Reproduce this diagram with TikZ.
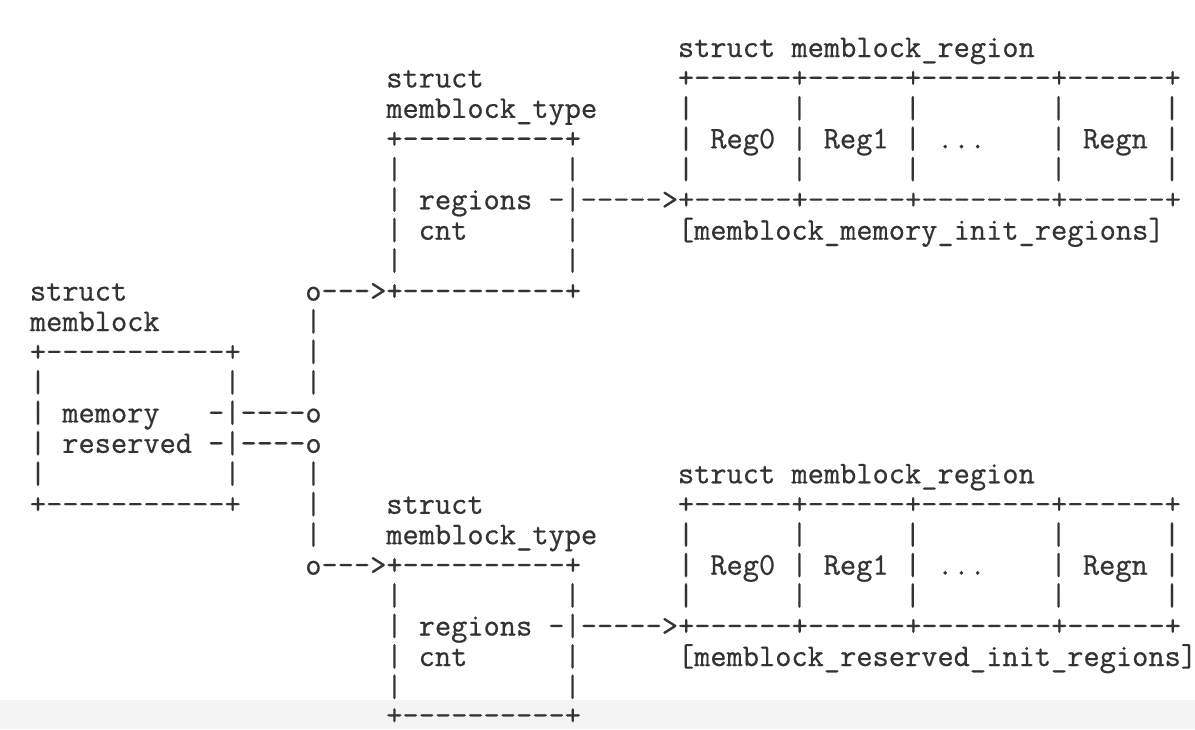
\documentclass[tikz,border=0pt]{standalone}
\usepackage{fontspec}
\newfontfamily\ascfont{Latin Modern Mono}[FakeBold=0.6]
\definecolor{ink}{HTML}{333333}
\definecolor{band}{HTML}{F4F4F4}
\newcommand{\cw}{16.2}
\newcommand{\rowh}{30.45}
% \seg{name}{col}{row}{text}
\newcommand{\seg}[4]{\node[asc] (#1) at ({29.9+\cw*#2},{50+\rowh*#3+7}) {#4};}
\newcommand{\regbars}[2]{%
  \seg{#1a}{40}{#2}{|}\seg{#1b}{47}{#2}{|}\seg{#1c}{54}{#2}{|}\seg{#1d}{63}{#2}{|}\seg{#1e}{70}{#2}{|}}
\tikzset{asc/.style={anchor=base west,inner sep=0pt,outer sep=0pt,text=ink,text depth=0pt,
  font=\fontsize{31.5}{32}\selectfont\ascfont}}
\begin{document}
\begin{tikzpicture}[x=1pt,y=-1pt]
\useasboundingbox (0,0) rectangle (1195,729);
\fill[white] (0,0) rectangle (1195,729);
\fill[band] (0,700) rectangle (1195,729);
% upper memblock_region array
\seg{ura}{40}{0}{struct memblock\_region}
\seg{ut1}{22}{1}{struct}
\seg{urtop}{40}{1}{+------+------+--------+------+}
\seg{ut2}{22}{2}{memblock\_type}
\regbars{ub2}{2}
\seg{uttop}{22}{3}{+----------+}
\regbars{ub3}{3}
\seg{ur0}{42}{3}{Reg0}\seg{ur1}{49}{3}{Reg1}\seg{urd}{56}{3}{...}\seg{urn}{65}{3}{Regn}
\seg{ul4}{22}{4}{|}\seg{ur4}{33}{4}{|}
\regbars{ub4}{4}
\seg{ul5}{22}{5}{|}\seg{ureg}{24}{5}{regions}
\seg{uarr}{32}{5}{-|----->+------+------+--------+------+}
\seg{ul6}{22}{6}{|}\seg{ucnt}{24}{6}{cnt}\seg{ur6}{33}{6}{|}
\seg{uinit}{40}{6}{[memblock\_memory\_init\_regions]}
\seg{ul7}{22}{7}{|}\seg{ur7}{33}{7}{|}
% memblock
\seg{m1}{0}{8}{struct}
\seg{uptr}{17}{8}{o--->+----------+}
\seg{m2}{0}{9}{memblock}\seg{v9}{17}{9}{|}
\seg{mtop}{0}{10}{+-----------+}\seg{v10}{17}{10}{|}
\seg{ml11}{0}{11}{|}\seg{mr11}{12}{11}{|}\seg{v11}{17}{11}{|}
\seg{ml12}{0}{12}{|}\seg{mmem}{2}{12}{memory}\seg{mmp}{11}{12}{-|----o}
\seg{ml13}{0}{13}{|}\seg{mres}{2}{13}{reserved}\seg{mrp}{11}{13}{-|----o}
\seg{ml14}{0}{14}{|}\seg{mr14}{12}{14}{|}\seg{v14}{17}{14}{|}
\seg{mbot}{0}{15}{+-----------+}\seg{v15}{17}{15}{|}
% lower
\seg{lra}{40}{14}{struct memblock\_region}
\seg{lt1}{22}{15}{struct}
\seg{lrtop}{40}{15}{+------+------+--------+------+}
\seg{v16}{17}{16}{|}\seg{lt2}{22}{16}{memblock\_type}
\regbars{lb16}{16}
\seg{lptr}{17}{17}{o--->+----------+}
\regbars{lb17}{17}
\seg{lr0}{42}{17}{Reg0}\seg{lr1}{49}{17}{Reg1}\seg{lrd}{56}{17}{...}\seg{lrn}{65}{17}{Regn}
\seg{ll18}{22}{18}{|}\seg{lr18}{33}{18}{|}
\regbars{lb18}{18}
\seg{ll19}{22}{19}{|}\seg{lreg}{24}{19}{regions}
\seg{larr}{32}{19}{-|----->+------+------+--------+------+}
\seg{ll20}{22}{20}{|}\seg{lcnt}{24}{20}{cnt}\seg{lr20}{33}{20}{|}
\seg{linit}{40}{20}{[memblock\_reserved\_init\_regions]}
\seg{ll21}{22}{21}{|}\seg{lr21}{33}{21}{|}
\node[asc] (ltbot) at ({29.9+\cw*22},{50+\rowh*22+5}) {+----------+};
\end{tikzpicture}
\end{document}
